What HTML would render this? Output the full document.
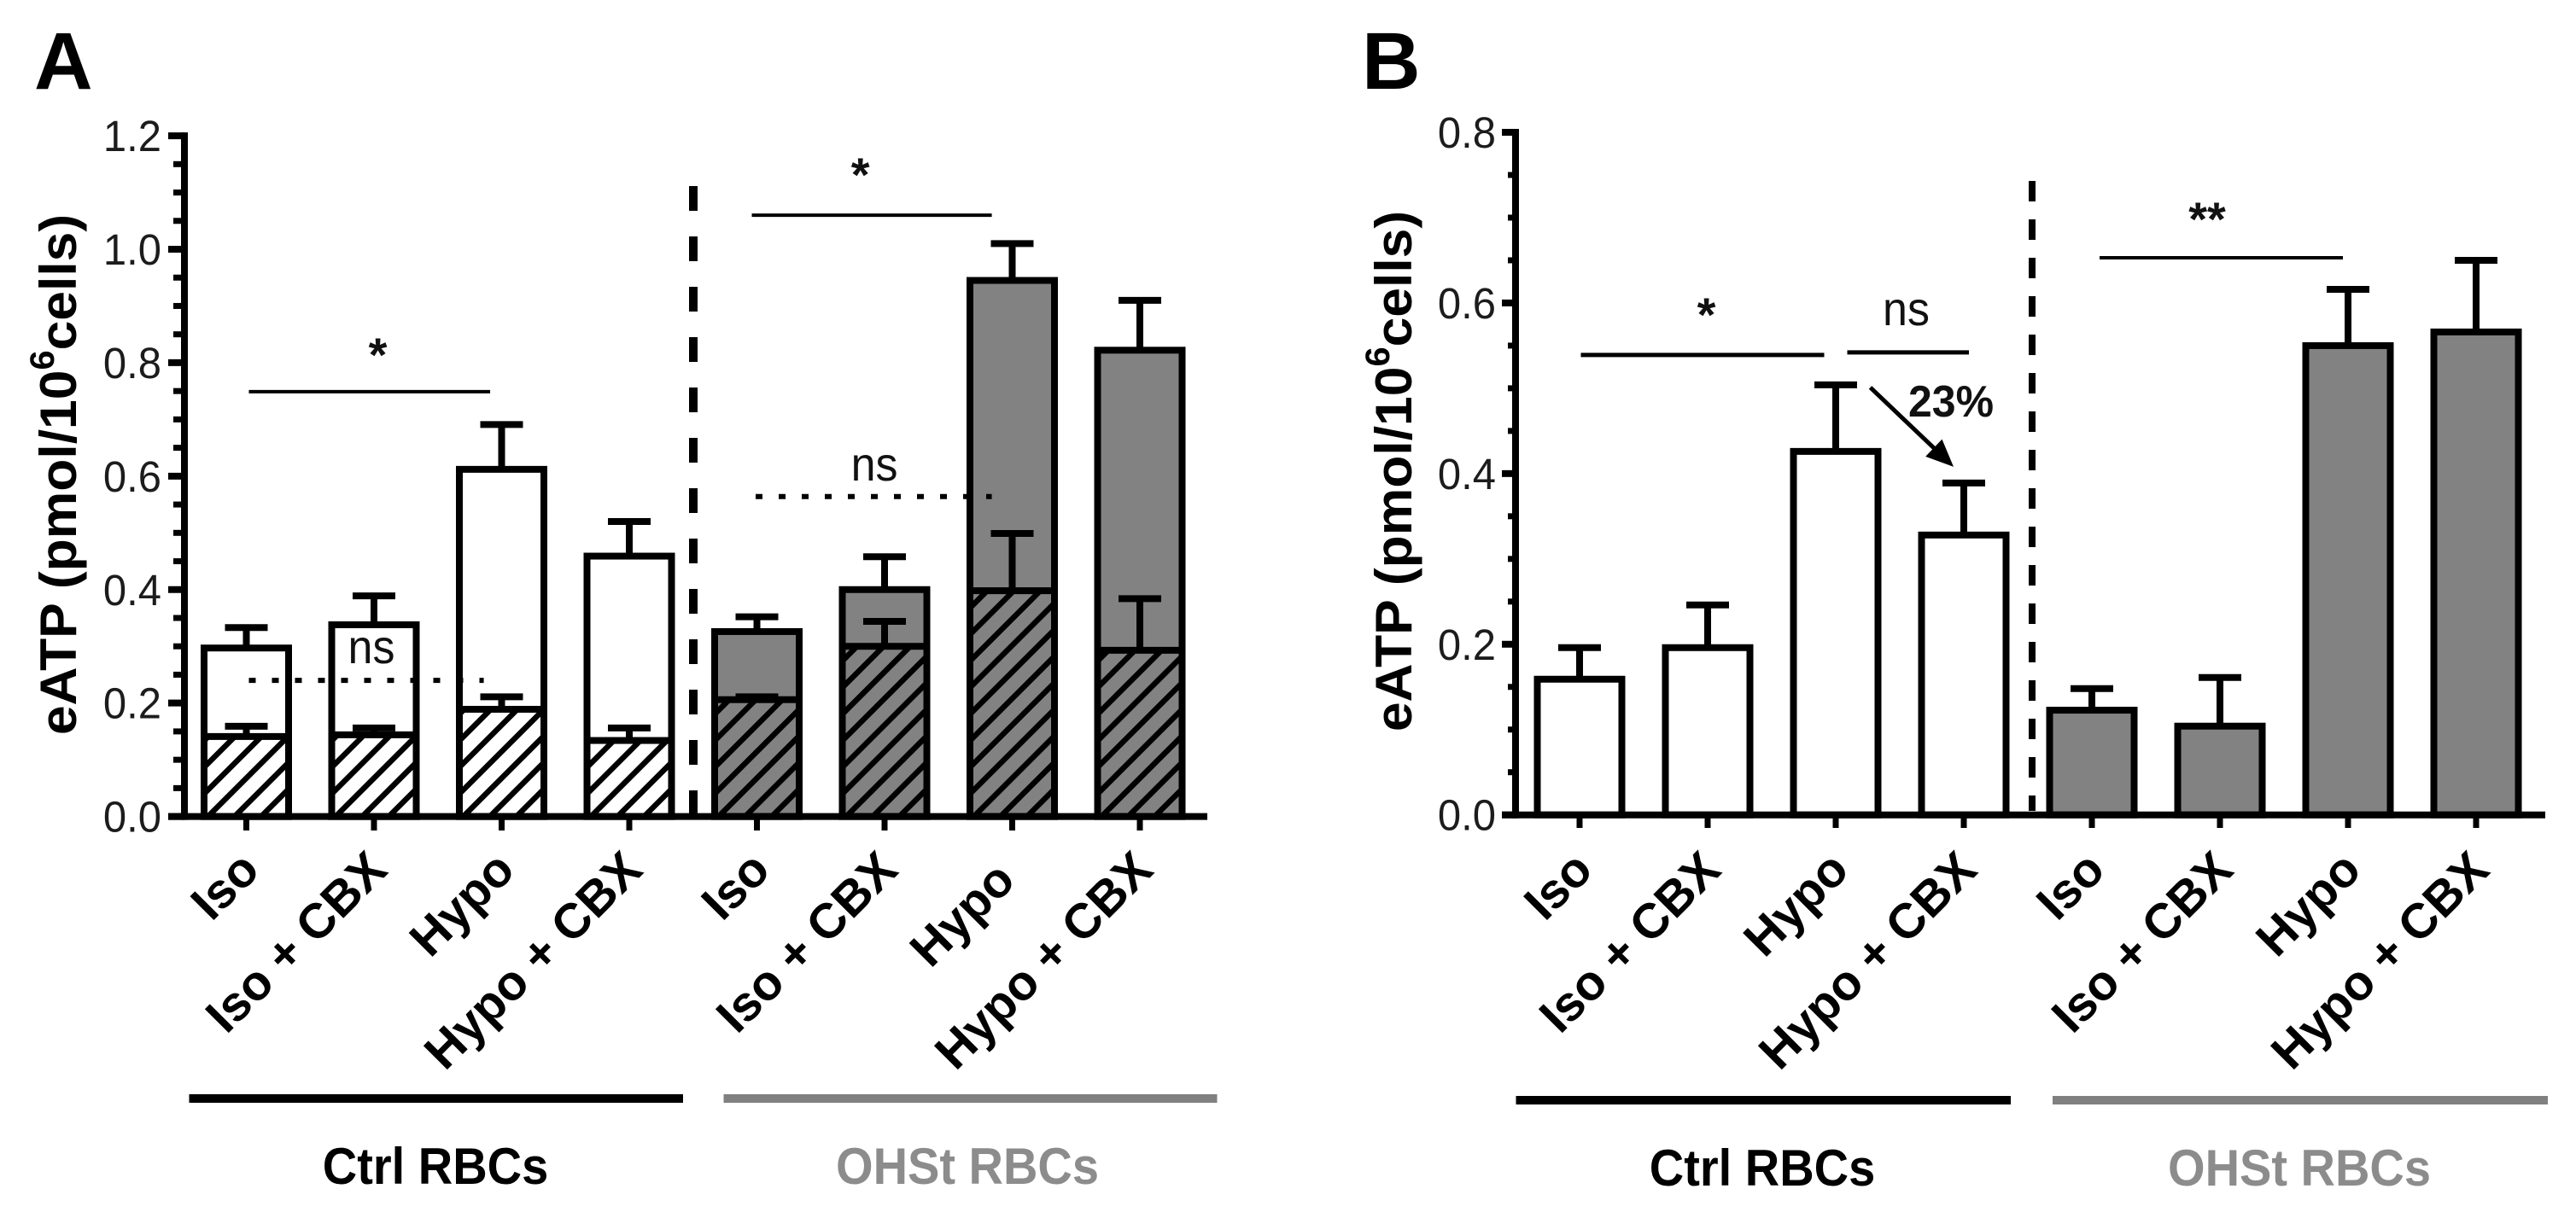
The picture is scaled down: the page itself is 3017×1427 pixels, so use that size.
<!DOCTYPE html>
<html lang="en">
<head>
<meta charset="utf-8">
<title>eATP release from control and OHSt RBCs</title>
<style>
html,body{margin:0;padding:0;background:#fff;}
svg{display:block;}
text{font-family:"Liberation Sans",Arial,sans-serif;}
</style>
</head>
<body>
<svg id="figure" xmlns="http://www.w3.org/2000/svg" width="3017" height="1427" viewBox="0 0 3017 1427">
  <rect x="0" y="0" width="3017" height="1427" fill="#fff"/>
  <defs id="defs"></defs>
  <text x="40" y="104" font-size="95" font-weight="bold">A</text>
  <text x="1595" y="104" font-size="95" font-weight="bold">B</text>
  <text transform="translate(89,556) rotate(-90) scale(1.04,1)" text-anchor="middle" font-size="60" font-weight="bold">eATP (pmol/10<tspan dy="-26" font-size="40">6</tspan><tspan dy="26">cells)</tspan></text>
  <text transform="translate(1653,552) rotate(-90) scale(1.04,1)" text-anchor="middle" font-size="60" font-weight="bold">eATP (pmol/10<tspan dy="-26" font-size="40">6</tspan><tspan dy="26">cells)</tspan></text>
  <rect x="221.5" y="1282" width="578.5" height="10" fill="#000"/>
  <rect x="847.5" y="1282" width="578" height="10" fill="#808080"/>
  <rect x="1775.5" y="1284" width="579.5" height="10" fill="#000"/>
  <rect x="2404" y="1284" width="580" height="10" fill="#808080"/>
  <text transform="translate(510,1387) scale(1,1.07)" text-anchor="middle" font-size="56" font-weight="bold">Ctrl RBCs</text>
  <text transform="translate(1133,1387) scale(1,1.07)" text-anchor="middle" font-size="56" font-weight="bold" fill="#8c8c8c">OHSt RBCs</text>
  <text transform="translate(2064,1389) scale(1,1.07)" text-anchor="middle" font-size="56" font-weight="bold">Ctrl RBCs</text>
  <text transform="translate(2693,1389) scale(1,1.07)" text-anchor="middle" font-size="56" font-weight="bold" fill="#8c8c8c">OHSt RBCs</text>
</svg>
<script>
// ---- Shared categories ----
const categories = ["Iso", "Iso + CBX", "Hypo", "Hypo + CBX", "Iso", "Iso + CBX", "Hypo", "Hypo + CBX"];

// ---- Panel A values ----
const aTicks = [0, 0.2, 0.4, 0.6, 0.8, 1.0, 1.2];
const aTickLabels = ["0.0", "0.2", "0.4", "0.6", "0.8", "1.0", "1.2"];
const aTotal = [0.297, 0.338, 0.612, 0.459, 0.326, 0.40, 0.945, 0.822];
const aTotalErrTop = [0.333, 0.389, 0.691, 0.52, 0.352, 0.458, 1.01, 0.91];
const aHatched = [0.141, 0.144, 0.189, 0.134, 0.206, 0.30, 0.398, 0.293];
const aHatchedErrTop = [0.159, 0.156, 0.211, 0.156, 0.211, 0.344, 0.499, 0.384];

// ---- Panel B values ----
const bTicks = [0, 0.2, 0.4, 0.6, 0.8];
const bTickLabels = ["0.0", "0.2", "0.4", "0.6", "0.8"];
const bTotal = [0.159, 0.196, 0.426, 0.328, 0.1227, 0.104, 0.55, 0.566];
const bTotalErrTop = [0.196, 0.246, 0.504, 0.389, 0.148, 0.161, 0.616, 0.65];

// ---- Axis functions ----
function xA(i) { return 288.5 + 149.5 * i; }
function yA(v) { return 956.6 - 664.6 * v; }
function xB(i) { return 1850 + 150 * i; }
function yB(v) { return 954.7 - 999.6 * v; }

const svg = document.getElementById('figure');
const defs = document.getElementById('defs');
const NS = 'http://www.w3.org/2000/svg';
const BAR_W = 99, STROKE = 8, CAP_W = 50, GREY = '#828282';

function make(tag, attrs, parent) {
  const el = document.createElementNS(NS, tag);
  for (const k in attrs) el.setAttribute(k, attrs[k]);
  (parent || svg).appendChild(el);
  return el;
}

function drawBars(prefix, x, y, total, totalTop) {
  total.forEach(function (v, i) {
    const cx = x(i);
    const fill = i < 4 ? '#fff' : GREY;
    const stem = make('line', {x1: cx, x2: cx, y1: y(v), y2: y(totalTop[i]), stroke: '#000', 'stroke-width': 8});
    
    
    const cap = make('line', {x1: cx - CAP_W / 2, x2: cx + CAP_W / 2, y1: y(totalTop[i]), y2: y(totalTop[i]), stroke: '#000', 'stroke-width': 8});
    
    
    const bar = make('rect', {x: cx - BAR_W / 2, y: y(v), width: BAR_W, height: y(0) - y(v), fill: fill, stroke: '#000', 'stroke-width': STROKE});
    
    
  });
}

function drawHatched(x, y) {
  aHatched.forEach(function (v, i) {
    const cx = x(i);
    const fill = i < 4 ? '#fff' : GREY;
    const pat = make('pattern', {id: 'hatch-' + i, patternUnits: 'userSpaceOnUse', width: 22, height: 22, patternTransform: 'translate(' + (cx - BAR_W / 2) + ',' + y(0) + ') rotate(-45)'}, defs);
    
    
    const bg = make('rect', {x: 0, y: 0, width: 22, height: 22, fill: fill}, pat);
    
    
    const ln = make('rect', {x: 0, y: 0, width: 22, height: 6.5, fill: '#000'}, pat);
    
    

    const stem = make('line', {x1: cx, x2: cx, y1: y(v), y2: y(aHatchedErrTop[i]), stroke: '#000', 'stroke-width': 8});
    
    
    const cap = make('line', {x1: cx - CAP_W / 2, x2: cx + CAP_W / 2, y1: y(aHatchedErrTop[i]), y2: y(aHatchedErrTop[i]), stroke: '#000', 'stroke-width': 8});
    
    
    const bar = make('rect', {x: cx - BAR_W / 2, y: y(v), width: BAR_W, height: y(0) - y(v), fill: 'url(#hatch-' + i + ')', stroke: '#000', 'stroke-width': STROKE});
    
    
  });
}

function drawAxes(prefix, x, y, ticks, labels, axisX, tickLeft, minorLeft, labelRight, xEnd, tickBottom) {
  const top = ticks[ticks.length - 1];
  const yAxis = make('line', {x1: axisX, x2: axisX, y1: y(top) - 4, y2: y(0) + 4, stroke: '#000', 'stroke-width': 8});
  
  
  const xAxis = make('line', {x1: tickLeft, x2: xEnd, y1: y(0), y2: y(0), stroke: '#000', 'stroke-width': 8});
  
  
  ticks.forEach(function (t, i) {
    const tick = make('line', {x1: tickLeft, x2: axisX, y1: y(t), y2: y(t), stroke: '#000', 'stroke-width': 8});
    
    
    const lab = make('text', {transform: 'translate(' + labelRight + ',' + (y(t) + 18) + ') scale(1,1.05)', 'text-anchor': 'end', 'font-size': 49, fill: '#1c1c1c'});
    
    
    lab.textContent = labels[i];
    if (i < ticks.length - 1) {
      const step = (ticks[i + 1] - t) / 4;
      for (let m = 1; m < 4; m++) {
        const minor = make('line', {x1: minorLeft, x2: axisX, y1: y(t + m * step), y2: y(t + m * step), stroke: '#000', 'stroke-width': 7});
        
        
      }
    }
  });
  categories.forEach(function (c, i) {
    const tick = make('line', {x1: x(i), x2: x(i), y1: y(0), y2: tickBottom, stroke: '#000', 'stroke-width': 7});
    
    
    const shift = (prefix === 'panel-a' && i === 6) ? 12 : 0;
    const lab = make('text', {transform: 'translate(' + (x(i) + 18 - shift) + ',' + (1022 + shift) + ') rotate(-45)', 'text-anchor': 'end', 'font-size': 57.5, 'font-weight': 'bold'});
    
    
    lab.textContent = c;
  });
}

function sigLine(name, x1, x2, y, w, dash) {
  const l = make('line', {x1: x1, x2: x2, y1: y, y2: y, stroke: '#000', 'stroke-width': w});
  if (dash) l.setAttribute('stroke-dasharray', dash);
  
  
}

function note(name, px, py, str, size, sy, weight) {
  const t = make('text', {transform: 'translate(' + px + ',' + py + ') scale(1,' + sy + ')', 'text-anchor': 'middle', 'font-size': size, 'font-weight': weight || 'normal', fill: '#111'});
  
  
  t.textContent = str;
}

function divider(name, px, y1, y2, w, dash) {
  const d = make('line', {x1: px, x2: px, y1: y1, y2: y2, stroke: '#000', 'stroke-width': w, 'stroke-dasharray': dash});
  
  
}

// Panel A
drawBars('panel-a', xA, yA, aTotal, aTotalErrTop);
drawHatched(xA, yA);
divider('panel-a-group-divider', 812, 218, 953, 10, '29 30');
sigLine('panel-a-significance-line-ctrl', xA(0.02), xA(1.91), yA(0.749), 4);
sigLine('panel-a-significance-line-ohst', xA(3.96), xA(5.84), yA(1.06), 4);
sigLine('panel-a-dotted-ns-line-ctrl', xA(0.02), xA(1.86), yA(0.24), 6, '8 19');
sigLine('panel-a-dotted-ns-line-ohst', xA(3.99), xA(5.84), yA(0.564), 6, '8 19');
note('panel-a-star-ctrl', xA(1.03), yA(0.749) - 24, '*', 56, 1, 'bold');
note('panel-a-star-ohst', xA(4.81), yA(1.06) - 28, '*', 56, 1, 'bold');
note('panel-a-ns-ctrl', xA(0.98), 777, 'ns', 52, 1.07);
note('panel-a-ns-ohst', xA(4.92), 563, 'ns', 52, 1.07);
drawAxes('panel-a', xA, yA, aTicks, aTickLabels, 216, 197, 203, 189, 1414, 973);

// Panel B
drawBars('panel-b', xB, yB, bTotal, bTotalErrTop);
divider('panel-b-group-divider', 2380, 212, 950, 8, '24 21');
sigLine('panel-b-significance-line-star', xB(0.01), xB(1.91), yB(0.539), 5);
sigLine('panel-b-significance-line-ns', xB(2.09), xB(3.04), yB(0.542), 5);
sigLine('panel-b-significance-line-ohst', xB(4.06), xB(5.96), yB(0.653), 4);
note('panel-b-star-ctrl', xB(0.99), yB(0.539) - 28, '*', 56, 1, 'bold');
note('panel-b-ns', xB(2.55), 381, 'ns', 52, 1.07);
note('panel-b-double-star', xB(4.9), yB(0.653) - 26, '**', 56, 1, 'bold');
note('panel-b-percent-change', xB(2.9), 488, '23%', 50, 1.04, 'bold');

const ax1 = xB(2.27), ay1 = yB(0.501), ax2 = xB(2.92), ay2 = yB(0.408);
const ang = Math.atan2(ay2 - ay1, ax2 - ax1);
const arrowShaft = make('line', {x1: ax1, y1: ay1, x2: ax2 - 20 * Math.cos(ang), y2: ay2 - 20 * Math.sin(ang), stroke: '#000', 'stroke-width': 5});


const headLen = 32, headHalf = 14;
const bx = ax2 - headLen * Math.cos(ang), by = ay2 - headLen * Math.sin(ang);
const nx = -Math.sin(ang), ny = Math.cos(ang);
const arrowHead = make('polygon', {points: ax2 + ',' + ay2 + ' ' + (bx + nx * headHalf) + ',' + (by + ny * headHalf) + ' ' + (bx - nx * headHalf) + ',' + (by - ny * headHalf), fill: '#000'});



drawAxes('panel-b', xB, yB, bTicks, bTickLabels, 1775, 1759, 1766, 1752, 2981, 970);
</script>
</body>
</html>
